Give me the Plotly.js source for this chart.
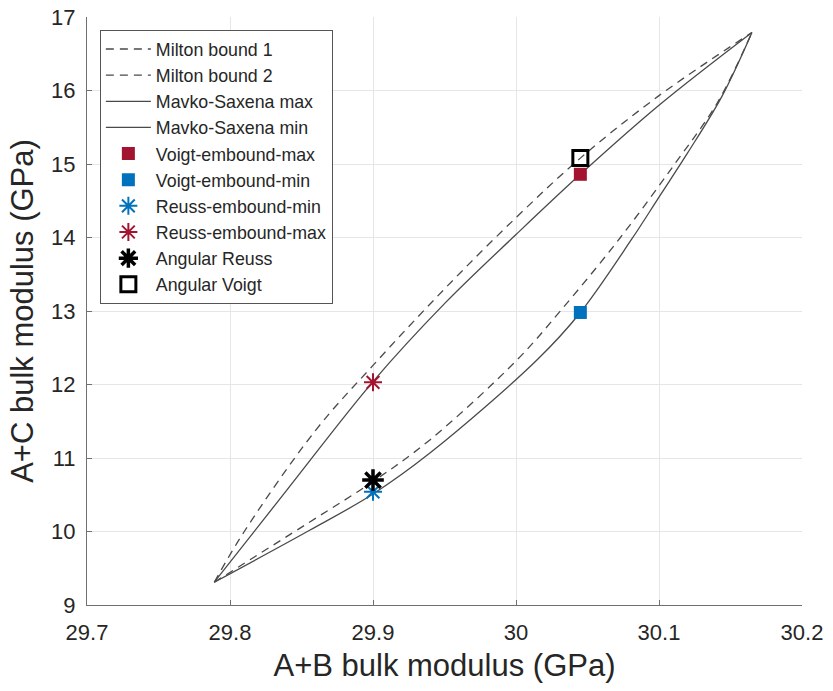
<!DOCTYPE html>
<html>
<head>
<meta charset="utf-8">
<script src="https://cdn.plot.ly/plotly-3.0.1.min.js"></script>
<style>html,body{margin:0;padding:0;background:#fff;}#chart{width:833px;height:691px;}</style>
</head>
<body>
<div id="chart"></div>
<script>
// Milton bound 1 (upper dashed)
const miltonUpperX = [29.789, 29.810, 29.860, 29.900, 29.950, 30.000, 30.045, 30.100, 30.165];
const miltonUpperY = [9.31, 10.00, 11.38, 12.26, 13.30, 14.27, 15.08, 15.93, 16.79];
// Milton bound 2 (lower dashed)
const miltonLowerX = [29.789, 29.855, 29.900, 29.940, 30.001, 30.031, 30.073, 30.111, 30.141, 30.165];
const miltonLowerY = [9.31, 10.12, 10.68, 11.25, 12.34, 13.00, 14.00, 15.00, 15.84, 16.79];
// Mavko-Saxena max (upper solid)
const mavkoMaxX = [29.789, 29.840, 29.900, 29.950, 30.000, 30.045, 30.100, 30.165];
const mavkoMaxY = [9.31, 10.57, 12.04, 13.10, 14.04, 14.86, 15.80, 16.79];
// Mavko-Saxena min (lower solid)
const mavkoMinX = [29.789, 29.856, 29.900, 29.940, 30.015, 30.045, 30.081, 30.100, 30.120, 30.144, 30.165];
const mavkoMinY = [9.31, 10.02, 10.51, 11.07, 12.34, 12.98, 13.98, 14.55, 15.15, 15.92, 16.79];

const voigtMaxX = [30.045], voigtMaxY = [14.86];
const voigtMinX = [30.045], voigtMinY = [12.98];
const reussMinX = [29.900], reussMinY = [10.54];
const reussMaxX = [29.900], reussMaxY = [12.03];
const angReussX = [29.900], angReussY = [10.70];
const angVoigtX = [30.045], angVoigtY = [15.08];

const xTicks = [29.7, 29.8, 29.9, 30, 30.1, 30.2];
const xTickText = ['29.7', '29.8', '29.9', '30', '30.1', '30.2'];
const yTicks = [9, 10, 11, 12, 13, 14, 15, 16, 17];

const lineColor = '#4a4a4a';
const red = '#A2142F';
const blue = '#0072BD';
const fam = 'Liberation Sans, Arial, sans-serif';

const traces = [
  {x: miltonUpperX, y: miltonUpperY, mode: 'lines', name: 'Milton bound 1', legendgroup:'a',
   line: {color: lineColor, width: 1.3, dash: '8px,6px', shape: 'spline', smoothing: 1}},
  {x: miltonLowerX, y: miltonLowerY, mode: 'lines', name: 'Milton bound 2', legendgroup:'b',
   line: {color: lineColor, width: 1.3, dash: '8px,6px', shape: 'spline', smoothing: 1}},
  {x: mavkoMaxX, y: mavkoMaxY, mode: 'lines', name: 'Mavko-Saxena max', legendgroup:'c',
   line: {color: lineColor, width: 1.3, shape: 'spline', smoothing: 1}},
  {x: mavkoMinX, y: mavkoMinY, mode: 'lines', name: 'Mavko-Saxena min', legendgroup:'d',
   line: {color: lineColor, width: 1.3, shape: 'spline', smoothing: 1}},
  {x: voigtMaxX, y: voigtMaxY, mode: 'markers', name: 'Voigt-embound-max', legendgroup:'e',
   marker: {symbol: 'square', size: 13, color: red}},
  {x: voigtMinX, y: voigtMinY, mode: 'markers', name: 'Voigt-embound-min', legendgroup:'f',
   marker: {symbol: 'square', size: 13, color: blue}},
  {x: reussMinX, y: reussMinY, mode: 'markers', name: 'Reuss-embound-min', legendgroup:'g',
   marker: {symbol: 'asterisk-open', size: 15, color: blue, line: {color: blue, width: 2}}},
  {x: reussMaxX, y: reussMaxY, mode: 'markers', name: 'Reuss-embound-max', legendgroup:'h',
   marker: {symbol: 'asterisk-open', size: 15, color: red, line: {color: red, width: 2}}},
  {x: angReussX, y: angReussY, mode: 'markers', name: 'Angular Reuss', legendgroup:'i',
   marker: {symbol: 'asterisk-open', size: 18, color: '#000', line: {color: '#000', width: 3.5}}},
  {x: angVoigtX, y: angVoigtY, mode: 'markers', name: 'Angular Voigt', legendgroup:'j',
   marker: {symbol: 'square-open', size: 15, color: '#000', line: {color: '#000', width: 3}}}
];

const tickFont = {family: fam, size: 22, color: '#262626'};
const titleFont = {family: fam, size: 31, color: '#262626'};

const layout = {
  width: 833, height: 691,
  margin: {l: 87, r: 31, t: 17, b: 86},
  paper_bgcolor: '#fff', plot_bgcolor: '#fff',
  showlegend: true,
  legend: {
    x: 0.018, y: 0.978, xanchor: 'left', yanchor: 'top',
    bgcolor: '#fff', bordercolor: '#555', borderwidth: 1,
    font: {family: fam, size: 17.8, color: '#262626'},
    traceorder: 'grouped', tracegroupgap: 0, itemwidth: 45
  },
  xaxis: {
    range: [29.7, 30.2], tickvals: xTicks, ticktext: xTickText,
    showgrid: true, gridcolor: '#e6e6e6', gridwidth: 1,
    showline: true, linecolor: '#707070', linewidth: 1,
    ticks: 'inside', ticklen: 5, tickcolor: '#707070',
    ticklabelstandoff: 8,
    zeroline: false, tickfont: tickFont,
    title: {text: 'A+B bulk modulus (GPa)', font: titleFont, standoff: 9}
  },
  yaxis: {
    range: [9, 17], tickvals: yTicks,
    showgrid: true, gridcolor: '#e6e6e6', gridwidth: 1,
    showline: true, linecolor: '#707070', linewidth: 1,
    ticks: 'inside', ticklen: 5, tickcolor: '#707070',
    ticklabelstandoff: 6,
    zeroline: false, tickfont: tickFont,
    title: {text: 'A+C bulk modulus (GPa)', font: titleFont, standoff: 8}
  }
};

Plotly.newPlot('chart', traces, layout, {displayModeBar: false, staticPlot: true});
</script>
</body>
</html>
